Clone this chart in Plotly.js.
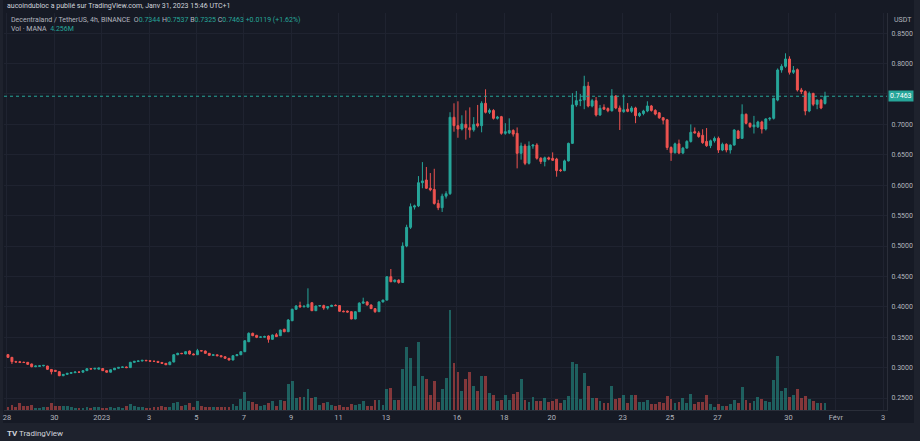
<!DOCTYPE html>
<html>
<head>
<meta charset="utf-8">
<script src="https://cdn.plot.ly/plotly-3.0.1.min.js"></script>
<style>
  html, body { margin: 0; padding: 0; background: #1e222d; }
  #chart { width: 920px; height: 441px; }
</style>
</head>
<body>
<div id="chart"></div>
<script>
// MANA / USDT, 4h candles, Binance
var opens = [
  0.3213,0.3169,0.3098,0.3095,0.3087,0.3087,0.3060,0.3015,0.3020,0.3030,
  0.3026,0.2970,0.2955,0.2933,0.2867,0.2889,0.2906,0.2917,0.2928,0.2925,
  0.2950,0.2982,0.2978,0.2975,0.2985,0.2950,0.2925,0.2965,0.2990,0.3004,
  0.3010,0.3000,0.3087,0.3103,0.3109,0.3120,0.3114,0.3105,0.3103,0.3085,
  0.3070,0.3048,0.3092,0.3212,0.3235,0.3225,0.3273,0.3224,0.3212,0.3279,
  0.3273,0.3235,0.3202,0.3210,0.3196,0.3179,0.3153,0.3125,0.3196,0.3212,
  0.3262,0.3426,0.3564,0.3530,0.3498,0.3500,0.3520,0.3465,0.3540,0.3525,
  0.3630,0.3590,0.3771,0.3959,0.4020,0.4000,0.3995,0.4067,0.3936,0.4013,
  0.4020,0.3980,0.4004,0.4024,0.4020,0.3927,0.3930,0.3920,0.3800,0.3920,
  0.4060,0.4080,0.4030,0.3970,0.3920,0.4080,0.4110,0.4495,0.4413,0.4440,
  0.4400,0.5000,0.5307,0.5640,0.5660,0.6041,0.6085,0.5950,0.5930,0.5700,
  0.5630,0.5820,0.5860,0.7117,0.6979,0.6924,0.7000,0.6945,0.6910,0.7010,
  0.6979,0.7347,0.7199,0.7230,0.7100,0.7127,0.6853,0.6860,0.6900,0.6853,
  0.6524,0.6645,0.6360,0.6645,0.6660,0.6443,0.6390,0.6450,0.6440,0.6430,
  0.6250,0.6240,0.6400,0.6688,0.7320,0.7390,0.7400,0.7630,0.7303,0.7390,
  0.7155,0.7280,0.7260,0.7225,0.7467,0.7270,0.7210,0.7250,0.7215,0.7270,
  0.7144,0.7180,0.7220,0.7303,0.7230,0.7190,0.7110,0.7075,0.6620,0.6534,
  0.6680,0.6530,0.6610,0.6720,0.6880,0.6860,0.6820,0.6720,0.6650,0.6730,
  0.6771,0.6579,0.6672,0.6579,0.6660,0.6891,0.6771,0.7166,0.7018,0.6960,
  0.6960,0.7040,0.6924,0.7090,0.7100,0.7400,0.7895,0.7955,0.8076,0.7857,
  0.7900,0.7566,0.7540,0.7220,0.7510,0.7330,0.7400,0.7344
];
var highs = [
  0.3225,0.3175,0.3112,0.3110,0.3098,0.3092,0.3066,0.3035,0.3036,0.3042,
  0.3030,0.2975,0.2962,0.2940,0.2895,0.2912,0.2922,0.2935,0.2936,0.2958,
  0.2990,0.2992,0.2995,0.3000,0.2992,0.2958,0.2970,0.2995,0.3010,0.3015,
  0.3018,0.3095,0.3110,0.3115,0.3125,0.3126,0.3120,0.3112,0.3108,0.3090,
  0.3075,0.3098,0.3220,0.3245,0.3242,0.3270,0.3280,0.3232,0.3308,0.3288,
  0.3280,0.3240,0.3218,0.3215,0.3202,0.3185,0.3158,0.3202,0.3220,0.3270,
  0.3450,0.3580,0.3575,0.3540,0.3512,0.3525,0.3530,0.3545,0.3570,0.3625,
  0.3640,0.3800,0.3970,0.4030,0.4084,0.4020,0.4304,0.4075,0.4020,0.4030,
  0.4035,0.4010,0.4035,0.4040,0.4025,0.3940,0.3938,0.3925,0.3925,0.4075,
  0.4150,0.4090,0.4040,0.3978,0.4090,0.4118,0.4500,0.4622,0.4450,0.4450,
  0.5060,0.5350,0.5700,0.5680,0.6150,0.6380,0.6300,0.6200,0.6270,0.5760,
  0.5860,0.5900,0.7200,0.7347,0.7380,0.7150,0.7230,0.7280,0.7120,0.7320,
  0.7380,0.7577,0.7260,0.7250,0.7140,0.7140,0.7020,0.7100,0.6920,0.6950,
  0.6700,0.6680,0.6720,0.6670,0.6690,0.6460,0.6470,0.6470,0.6540,0.6450,
  0.6270,0.6420,0.6700,0.7514,0.7550,0.7500,0.7800,0.7700,0.7420,0.7450,
  0.7320,0.7330,0.7280,0.7580,0.7480,0.7310,0.7490,0.7350,0.7300,0.7290,
  0.7200,0.7240,0.7380,0.7320,0.7250,0.7200,0.7120,0.7090,0.6640,0.6700,
  0.6750,0.6630,0.6740,0.7000,0.6950,0.6890,0.6920,0.6940,0.6750,0.6800,
  0.6800,0.6700,0.6690,0.6670,0.6920,0.6910,0.7330,0.7180,0.7030,0.7140,
  0.7060,0.7060,0.7100,0.7120,0.7440,0.7920,0.7990,0.8169,0.8120,0.7960,
  0.7920,0.7600,0.7560,0.7540,0.7520,0.7410,0.7420,0.7537
];
var lows = [
  0.3160,0.3060,0.3085,0.3075,0.3078,0.3045,0.3005,0.3008,0.3012,0.3020,
  0.2965,0.2889,0.2930,0.2860,0.2860,0.2880,0.2898,0.2910,0.2915,0.2920,
  0.2945,0.2972,0.2970,0.2968,0.2945,0.2918,0.2920,0.2960,0.2985,0.2998,
  0.2992,0.2996,0.3080,0.3095,0.3102,0.3108,0.3098,0.3096,0.3080,0.3062,
  0.3040,0.3042,0.3088,0.3205,0.3222,0.3220,0.3218,0.3205,0.3208,0.3268,
  0.3228,0.3195,0.3195,0.3188,0.3172,0.3148,0.3118,0.3120,0.3190,0.3205,
  0.3255,0.3420,0.3518,0.3485,0.3490,0.3495,0.3410,0.3460,0.3505,0.3520,
  0.3582,0.3585,0.3765,0.3950,0.3985,0.3990,0.3990,0.3930,0.3930,0.4005,
  0.3950,0.3955,0.3998,0.4012,0.3920,0.3912,0.3905,0.3795,0.3795,0.3915,
  0.4050,0.4022,0.3962,0.3900,0.3915,0.4072,0.4105,0.4405,0.4400,0.4380,
  0.4395,0.4980,0.5280,0.5600,0.5640,0.5950,0.5940,0.5900,0.5680,0.5590,
  0.5560,0.5780,0.5840,0.6880,0.6780,0.6900,0.6750,0.6780,0.6880,0.6950,
  0.6870,0.7180,0.7170,0.7080,0.7080,0.6830,0.6830,0.6840,0.6800,0.6277,
  0.6420,0.6330,0.6340,0.6600,0.6420,0.6350,0.6310,0.6410,0.6400,0.6140,
  0.6220,0.6230,0.6390,0.6680,0.7290,0.7300,0.7250,0.7280,0.7280,0.7130,
  0.7140,0.7240,0.7200,0.7210,0.7250,0.6908,0.7190,0.7200,0.7190,0.7020,
  0.7120,0.7150,0.7200,0.7210,0.7150,0.7090,0.7000,0.6580,0.6400,0.6520,
  0.6510,0.6510,0.6600,0.6700,0.6850,0.6780,0.6680,0.6630,0.6610,0.6700,
  0.6530,0.6560,0.6540,0.6520,0.6650,0.6760,0.6760,0.7000,0.6940,0.6850,
  0.6940,0.6850,0.6900,0.7060,0.7080,0.7380,0.7850,0.7930,0.7820,0.7830,
  0.7540,0.7500,0.7150,0.7200,0.7300,0.7250,0.7250,0.7325
];
var closes = [
  0.3169,0.3098,0.3092,0.3087,0.3085,0.3054,0.3015,0.3026,0.3030,0.3037,
  0.2972,0.2933,0.2940,0.2867,0.2889,0.2906,0.2917,0.2928,0.2925,0.2950,
  0.2982,0.2978,0.2988,0.2993,0.2950,0.2925,0.2965,0.2990,0.3004,0.3010,
  0.3000,0.3087,0.3103,0.3109,0.3120,0.3114,0.3105,0.3103,0.3085,0.3070,
  0.3048,0.3092,0.3212,0.3235,0.3230,0.3262,0.3224,0.3212,0.3279,0.3275,
  0.3235,0.3202,0.3210,0.3196,0.3179,0.3153,0.3125,0.3196,0.3212,0.3262,
  0.3442,0.3564,0.3525,0.3498,0.3505,0.3510,0.3465,0.3536,0.3510,0.3618,
  0.3590,0.3783,0.3959,0.4013,0.4000,0.4010,0.4040,0.3936,0.4013,0.4020,
  0.3980,0.4004,0.4024,0.4020,0.3927,0.3920,0.3915,0.3800,0.3920,0.4060,
  0.4080,0.4030,0.3970,0.3920,0.4080,0.4110,0.4495,0.4413,0.4440,0.4400,
  0.5000,0.5307,0.5647,0.5660,0.6041,0.6070,0.5950,0.5925,0.5700,0.5630,
  0.5820,0.5860,0.7117,0.6979,0.6924,0.7008,0.6945,0.6910,0.7000,0.6979,
  0.7347,0.7199,0.7230,0.7100,0.7120,0.6853,0.6880,0.6900,0.6840,0.6524,
  0.6645,0.6360,0.6645,0.6660,0.6443,0.6390,0.6450,0.6430,0.6410,0.6240,
  0.6240,0.6400,0.6688,0.7320,0.7390,0.7400,0.7626,0.7302,0.7390,0.7155,
  0.7265,0.7250,0.7225,0.7467,0.7270,0.7210,0.7240,0.7215,0.7270,0.7144,
  0.7180,0.7220,0.7303,0.7230,0.7170,0.7110,0.7070,0.6620,0.6534,0.6680,
  0.6530,0.6610,0.6720,0.6870,0.6860,0.6800,0.6700,0.6650,0.6730,0.6770,
  0.6579,0.6672,0.6579,0.6660,0.6908,0.6771,0.7166,0.7018,0.6963,0.6990,
  0.7040,0.6924,0.7090,0.7100,0.7428,0.7895,0.7955,0.8076,0.7857,0.7890,
  0.7566,0.7540,0.7220,0.7510,0.7331,0.7400,0.7270,0.7463
];
// volume in millions of MANA
var volumes = [
  2.1,3.4,1.7,4.3,2.5,2.7,3.4,1.1,1.1,1.7,
  1.7,4.4,2.3,2.7,2.5,2.5,1.7,1.3,1.1,1.1,
  1.9,1.5,1.7,1.7,1.5,1.3,1.7,1.5,1.7,1.5,
  2.5,3.8,2.3,1.7,1.7,1.3,1.3,1.7,1.7,2.5,
  1.9,1.7,4.3,4.9,2.3,3.4,4.3,1.9,5.5,2.3,
  1.7,1.9,1.7,1.7,1.7,1.7,1.9,3.8,2.5,7.0,
  11.0,5.5,4.9,3.8,2.7,3.4,4.3,5.5,2.7,6.4,
  5.9,16.5,18.1,7.6,8.3,8.4,13.3,7.6,8.3,3.2,
  4.3,5.3,3.2,2.5,3.4,2.1,2.1,4.0,3.2,3.8,
  5.9,2.7,2.7,6.4,6.4,3.4,12.9,14.0,6.5,6.4,
  25.6,39.8,32.8,15.2,42.7,21.6,19.7,9.1,18.0,5.3,
  13.1,20.3,62.7,29.7,23.9,11.9,19.2,23.9,15.2,11.9,
  21.1,21.6,10.8,9.7,5.9,6.5,9.1,6.5,10.2,11.0,
  19.7,6.4,5.3,8.4,5.7,5.7,7.4,5.3,5.9,7.2,
  4.3,6.4,8.9,30.3,28.8,7.0,22.9,14.8,7.4,7.6,
  5.9,4.3,4.3,14.8,6.8,7.6,9.5,4.4,9.5,9.7,
  5.3,5.3,6.4,3.8,3.8,5.3,4.3,8.9,7.0,4.6,
  5.3,7.6,4.6,10.2,3.6,5.3,4.9,9.1,3.6,2.1,
  4.0,2.5,2.5,3.8,6.4,4.4,14.2,6.4,4.3,5.9,
  8.4,7.0,5.9,5.3,18.6,33.8,11.9,13.8,8.4,9.1,
  12.9,7.6,8.9,7.0,5.9,4.3,4.3,4.256
];

var tickDates = ["2022-12-28","2022-12-30","2023-01-01","2023-01-03","2023-01-05","2023-01-07",
  "2023-01-09","2023-01-11","2023-01-13","2023-01-16","2023-01-18","2023-01-20","2023-01-23",
  "2023-01-25","2023-01-27","2023-01-30","2023-02-01","2023-02-03"];
var tickText = ["28","30","2023","3","5","7","9","11","13","16","18","20","23","25","27","30","Févr","3"];
var priceTicks = [0.25,0.30,0.35,0.40,0.45,0.50,0.55,0.60,0.65,0.70,0.75,0.80,0.85];

var UP = "#26a69a", DOWN = "#ef5350";
var FOUR_H = 4 * 3600 * 1000;

// candle open times, every 4 hours from Dec 28 01:00 (UTC+1)
var t0 = Date.UTC(2022, 11, 28, 1, 0);
var times = opens.map(function (_, i) {
  return new Date(t0 + i * FOUR_H).toISOString().slice(0, 16).replace("T", " ");
});
var volColors = closes.map(function (c, i) {
  return c >= opens[i] ? "rgba(38,166,154,0.5)" : "rgba(239,83,80,0.5)";
});
var last = closes[closes.length - 1];

// the last-price box hides the 0.7500 label, as on the original
var priceText = priceTicks.map(function (v) {
  return Math.abs(v - last) < 0.01 ? "" : v.toFixed(4);
});

var data = [
  {
    type: "bar",
    x: times,
    y: volumes,
    width: FOUR_H * 0.72,
    marker: { color: volColors, line: { width: 0 } },
    yaxis: "y",
    hoverinfo: "skip"
  },
  {
    type: "candlestick",
    x: times,
    open: opens,
    high: highs,
    low: lows,
    close: closes,
    whiskerwidth: 0,
    increasing: { line: { color: UP, width: 1 }, fillcolor: UP },
    decreasing: { line: { color: DOWN, width: 1 }, fillcolor: DOWN },
    yaxis: "y2",
    hoverinfo: "skip"
  }
];

var PW = 883, PH = 397; // plot area in px
function px(x) { return (x - 4) / PW; }
function py(y) { return (410 - y) / PH; }

var layout = {
  width: 920,
  height: 441,
  margin: { l: 4, r: 33, t: 13, b: 31 },
  paper_bgcolor: "#161a25",
  plot_bgcolor: "#161a25",
  showlegend: false,
  bargap: 0,
  font: { family: "Roboto, sans-serif", color: "#b2b5be", size: 8 },
  xaxis: {
    type: "date",
    range: ["2022-12-27 20:58", "2023-02-03 03:50"],
    tickvals: tickDates,
    ticktext: tickText,
    tickangle: 0,
    showgrid: true,
    gridcolor: "#1f2330",
    zeroline: false,
    showline: true,
    linecolor: "#2a2e39",
    ticks: "",
    tickfont: { size: 7.5, color: "#b2b5be" },
    rangeslider: { visible: false },
    fixedrange: true
  },
  yaxis: {
    range: [0, 249],
    visible: false,
    showgrid: false,
    fixedrange: true
  },
  yaxis2: {
    overlaying: "y",
    side: "right",
    range: [0.2303, 0.8832],
    tickvals: priceTicks,
    ticktext: priceText,
    showgrid: true,
    gridcolor: "#1f2330",
    zeroline: false,
    showline: true,
    linecolor: "#2a2e39",
    ticks: "",
    ticklabelstandoff: 2,
    tickfont: { size: 7, color: "#b2b5be" },
    fixedrange: true
  },
  shapes: [
    // last price line
    { type: "line", xref: "paper", yref: "y2", x0: 0, x1: 1, y0: last, y1: last,
      line: { color: UP, width: 1, dash: "dot" } },
    // outer frame
    { type: "rect", xref: "paper", yref: "paper", layer: "below", x0: px(0), x1: px(920), y0: py(423), y1: py(441),
      fillcolor: "#1e222d", line: { width: 0 } },
    { type: "rect", xref: "paper", yref: "paper", layer: "below", x0: px(0), x1: px(3), y0: py(441), y1: py(0),
      fillcolor: "#1e222d", line: { width: 0 } },
    { type: "rect", xref: "paper", yref: "paper", layer: "below", x0: px(914), x1: px(920), y0: py(441), y1: py(0),
      fillcolor: "#1e222d", line: { width: 0 } }
  ],
  annotations: [
    { xref: "paper", yref: "paper", x: px(5), y: py(6), xanchor: "left", yanchor: "middle",
      showarrow: false, font: { size: 7, color: "#d1d4dc" },
      text: "aucoindubloc a publié sur TradingView.com, Janv 31, 2023 15:46 UTC+1" },
    { xref: "paper", yref: "paper", x: px(9), y: py(20), xanchor: "left", yanchor: "middle",
      showarrow: false, font: { size: 7, color: "#b2b5be" },
      text: "Decentraland / TetherUS, 4h, BINANCE  O<span style='color:#26a69a'>0.7344</span>" +
            " H<span style='color:#26a69a'>0.7537</span> B<span style='color:#26a69a'>0.7325</span>" +
            " C<span style='color:#26a69a'>0.7463</span> <span style='color:#26a69a'>+0.0119 (+1.62%)</span>" },
    { xref: "paper", yref: "paper", x: px(9), y: py(29), xanchor: "left", yanchor: "middle",
      showarrow: false, font: { size: 7, color: "#b2b5be" },
      text: "Vol · MANA  <span style='color:#26a69a'>4.256M</span>" },
    { xref: "paper", yref: "paper", x: px(892), y: py(20), xanchor: "left", yanchor: "middle",
      showarrow: false, font: { size: 7, color: "#b2b5be" }, text: "USDT" },
    { xref: "paper", yref: "y2", x: px(888), y: last, xanchor: "left", yanchor: "middle",
      showarrow: false, bgcolor: UP, borderpad: 1, font: { size: 7, color: "#ffffff" },
      text: last.toFixed(4) },
    { xref: "paper", yref: "paper", x: px(5), y: py(433), xanchor: "left", yanchor: "middle",
      showarrow: false, font: { size: 8, color: "#d1d4dc" },
      text: "<b>TV</b> TradingView" }
  ]
};

var config = { responsive: false, displayModeBar: false, staticPlot: true };
Plotly.newPlot("chart", data, layout, config);
</script>
</body>
</html>
